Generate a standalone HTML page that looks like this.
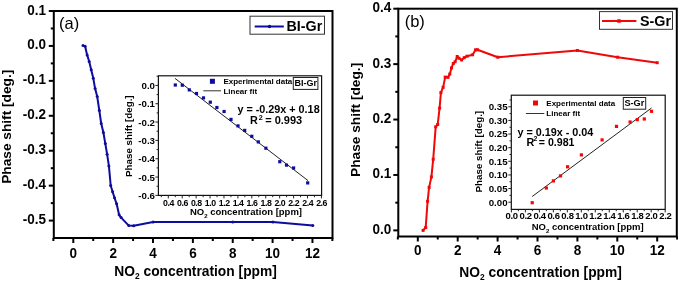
<!DOCTYPE html>
<html><head><meta charset="utf-8"><style>
html,body{margin:0;padding:0;background:#fff;}
body{width:678px;height:283px;overflow:hidden;}
svg{display:block;}
text{fill:#000;}
</style></head><body>
<svg width="678" height="283" viewBox="0 0 678 283" font-family='"Liberation Sans", sans-serif'>
<rect width="678" height="283" fill="#fff"/>
<rect x="53.8" y="11" width="278.7" height="227" fill="none" stroke="#000" stroke-width="2"/>
<line x1="48.80" y1="11.00" x2="53.80" y2="11.00" stroke="#000" stroke-width="2"/>
<line x1="48.80" y1="45.93" x2="53.80" y2="45.93" stroke="#000" stroke-width="2"/>
<line x1="48.80" y1="80.86" x2="53.80" y2="80.86" stroke="#000" stroke-width="2"/>
<line x1="48.80" y1="115.79" x2="53.80" y2="115.79" stroke="#000" stroke-width="2"/>
<line x1="48.80" y1="150.72" x2="53.80" y2="150.72" stroke="#000" stroke-width="2"/>
<line x1="48.80" y1="185.65" x2="53.80" y2="185.65" stroke="#000" stroke-width="2"/>
<line x1="48.80" y1="220.58" x2="53.80" y2="220.58" stroke="#000" stroke-width="2"/>
<line x1="50.80" y1="28.46" x2="53.80" y2="28.46" stroke="#000" stroke-width="2"/>
<line x1="50.80" y1="63.40" x2="53.80" y2="63.40" stroke="#000" stroke-width="2"/>
<line x1="50.80" y1="98.33" x2="53.80" y2="98.33" stroke="#000" stroke-width="2"/>
<line x1="50.80" y1="133.25" x2="53.80" y2="133.25" stroke="#000" stroke-width="2"/>
<line x1="50.80" y1="168.19" x2="53.80" y2="168.19" stroke="#000" stroke-width="2"/>
<line x1="50.80" y1="203.12" x2="53.80" y2="203.12" stroke="#000" stroke-width="2"/>
<line x1="73.30" y1="238.00" x2="73.30" y2="243.00" stroke="#000" stroke-width="2"/>
<line x1="113.16" y1="238.00" x2="113.16" y2="243.00" stroke="#000" stroke-width="2"/>
<line x1="153.02" y1="238.00" x2="153.02" y2="243.00" stroke="#000" stroke-width="2"/>
<line x1="192.88" y1="238.00" x2="192.88" y2="243.00" stroke="#000" stroke-width="2"/>
<line x1="232.74" y1="238.00" x2="232.74" y2="243.00" stroke="#000" stroke-width="2"/>
<line x1="272.60" y1="238.00" x2="272.60" y2="243.00" stroke="#000" stroke-width="2"/>
<line x1="312.46" y1="238.00" x2="312.46" y2="243.00" stroke="#000" stroke-width="2"/>
<line x1="53.37" y1="238.00" x2="53.37" y2="241.00" stroke="#000" stroke-width="2"/>
<line x1="93.23" y1="238.00" x2="93.23" y2="241.00" stroke="#000" stroke-width="2"/>
<line x1="133.09" y1="238.00" x2="133.09" y2="241.00" stroke="#000" stroke-width="2"/>
<line x1="172.95" y1="238.00" x2="172.95" y2="241.00" stroke="#000" stroke-width="2"/>
<line x1="212.81" y1="238.00" x2="212.81" y2="241.00" stroke="#000" stroke-width="2"/>
<line x1="252.67" y1="238.00" x2="252.67" y2="241.00" stroke="#000" stroke-width="2"/>
<line x1="292.53" y1="238.00" x2="292.53" y2="241.00" stroke="#000" stroke-width="2"/>
<line x1="332.39" y1="238.00" x2="332.39" y2="241.00" stroke="#000" stroke-width="2"/>
<polyline points="83.0,45.6 85.1,46.3 87.1,54.9 89.2,61.5 91.2,69.8 93.3,78.3 95.1,88.6 97.2,96.5 99.3,110.4 101.2,123.5 103.4,132.5 105.3,143.6 107.1,154.2 108.9,165.9 110.7,185.5 112.6,191.8 114.5,197.7 116.6,203.8 119.1,214.8 121.1,217.6 128.8,225.6 133.7,225.7 153.1,221.9 232.8,221.9 272.8,221.9 312.8,225.4" fill="none" stroke="#0e0c9e" stroke-width="2" stroke-linejoin="round"/>
<circle cx="83.00" cy="45.60" r="1.5" fill="#0e0c9e"/>
<circle cx="85.10" cy="46.30" r="1.5" fill="#0e0c9e"/>
<circle cx="87.10" cy="54.90" r="1.5" fill="#0e0c9e"/>
<circle cx="89.20" cy="61.50" r="1.5" fill="#0e0c9e"/>
<circle cx="91.20" cy="69.80" r="1.5" fill="#0e0c9e"/>
<circle cx="93.30" cy="78.30" r="1.5" fill="#0e0c9e"/>
<circle cx="95.10" cy="88.60" r="1.5" fill="#0e0c9e"/>
<circle cx="97.20" cy="96.50" r="1.5" fill="#0e0c9e"/>
<circle cx="99.30" cy="110.40" r="1.5" fill="#0e0c9e"/>
<circle cx="101.20" cy="123.50" r="1.5" fill="#0e0c9e"/>
<circle cx="103.40" cy="132.50" r="1.5" fill="#0e0c9e"/>
<circle cx="105.30" cy="143.60" r="1.5" fill="#0e0c9e"/>
<circle cx="107.10" cy="154.20" r="1.5" fill="#0e0c9e"/>
<circle cx="108.90" cy="165.90" r="1.5" fill="#0e0c9e"/>
<circle cx="110.70" cy="185.50" r="1.5" fill="#0e0c9e"/>
<circle cx="112.60" cy="191.80" r="1.5" fill="#0e0c9e"/>
<circle cx="114.50" cy="197.70" r="1.5" fill="#0e0c9e"/>
<circle cx="116.60" cy="203.80" r="1.5" fill="#0e0c9e"/>
<circle cx="119.10" cy="214.80" r="1.5" fill="#0e0c9e"/>
<circle cx="121.10" cy="217.60" r="1.5" fill="#0e0c9e"/>
<circle cx="128.80" cy="225.60" r="1.5" fill="#0e0c9e"/>
<circle cx="133.70" cy="225.70" r="1.5" fill="#0e0c9e"/>
<circle cx="153.10" cy="221.90" r="1.5" fill="#0e0c9e"/>
<circle cx="232.80" cy="221.90" r="1.5" fill="#0e0c9e"/>
<circle cx="272.80" cy="221.90" r="1.5" fill="#0e0c9e"/>
<circle cx="312.80" cy="225.40" r="1.5" fill="#0e0c9e"/>
<rect x="250" y="16.2" width="74.5" height="18" fill="#fff" stroke="#333" stroke-width="1"/>
<line x1="254.70" y1="26.50" x2="283.80" y2="26.50" stroke="#0e0c9e" stroke-width="2"/>
<circle cx="269.50" cy="26.50" r="1.75" fill="#0e0c9e"/>
<rect x="398.3" y="8.7" width="278.49999999999994" height="227.8" fill="none" stroke="#000" stroke-width="2"/>
<line x1="393.30" y1="8.70" x2="398.30" y2="8.70" stroke="#000" stroke-width="2"/>
<line x1="393.30" y1="64.12" x2="398.30" y2="64.12" stroke="#000" stroke-width="2"/>
<line x1="393.30" y1="119.54" x2="398.30" y2="119.54" stroke="#000" stroke-width="2"/>
<line x1="393.30" y1="174.96" x2="398.30" y2="174.96" stroke="#000" stroke-width="2"/>
<line x1="393.30" y1="230.38" x2="398.30" y2="230.38" stroke="#000" stroke-width="2"/>
<line x1="395.30" y1="36.41" x2="398.30" y2="36.41" stroke="#000" stroke-width="2"/>
<line x1="395.30" y1="91.83" x2="398.30" y2="91.83" stroke="#000" stroke-width="2"/>
<line x1="395.30" y1="147.25" x2="398.30" y2="147.25" stroke="#000" stroke-width="2"/>
<line x1="395.30" y1="202.67" x2="398.30" y2="202.67" stroke="#000" stroke-width="2"/>
<line x1="417.80" y1="236.50" x2="417.80" y2="241.50" stroke="#000" stroke-width="2"/>
<line x1="457.70" y1="236.50" x2="457.70" y2="241.50" stroke="#000" stroke-width="2"/>
<line x1="497.60" y1="236.50" x2="497.60" y2="241.50" stroke="#000" stroke-width="2"/>
<line x1="537.50" y1="236.50" x2="537.50" y2="241.50" stroke="#000" stroke-width="2"/>
<line x1="577.40" y1="236.50" x2="577.40" y2="241.50" stroke="#000" stroke-width="2"/>
<line x1="617.30" y1="236.50" x2="617.30" y2="241.50" stroke="#000" stroke-width="2"/>
<line x1="657.20" y1="236.50" x2="657.20" y2="241.50" stroke="#000" stroke-width="2"/>
<line x1="397.85" y1="236.50" x2="397.85" y2="239.50" stroke="#000" stroke-width="2"/>
<line x1="437.75" y1="236.50" x2="437.75" y2="239.50" stroke="#000" stroke-width="2"/>
<line x1="477.65" y1="236.50" x2="477.65" y2="239.50" stroke="#000" stroke-width="2"/>
<line x1="517.55" y1="236.50" x2="517.55" y2="239.50" stroke="#000" stroke-width="2"/>
<line x1="557.45" y1="236.50" x2="557.45" y2="239.50" stroke="#000" stroke-width="2"/>
<line x1="597.35" y1="236.50" x2="597.35" y2="239.50" stroke="#000" stroke-width="2"/>
<line x1="637.25" y1="236.50" x2="637.25" y2="239.50" stroke="#000" stroke-width="2"/>
<line x1="677.15" y1="236.50" x2="677.15" y2="239.50" stroke="#000" stroke-width="2"/>
<polyline points="423.1,230.4 425.7,227.5 427.6,201.3 429.1,187.4 431.4,176.9 433.2,159.3 435.7,126.8 437.7,124.5 439.6,108.1 440.9,92.6 443.1,87.4 445.2,77.1 448.0,77.3 449.8,74.1 451.5,67.9 453.3,63.5 455.1,61.8 457.2,56.5 458.9,58.2 461.6,60.0 464.2,57.7 467.0,56.2 472.6,54.8 475.6,49.8 477.5,49.8 497.8,57.2 577.4,50.5 617.6,57.2 657.2,62.7" fill="none" stroke="#f00808" stroke-width="2" stroke-linejoin="round"/>
<rect x="421.60" y="228.90" width="3" height="3" fill="#f00808"/>
<rect x="424.20" y="226.00" width="3" height="3" fill="#f00808"/>
<rect x="426.10" y="199.80" width="3" height="3" fill="#f00808"/>
<rect x="427.60" y="185.90" width="3" height="3" fill="#f00808"/>
<rect x="429.90" y="175.40" width="3" height="3" fill="#f00808"/>
<rect x="431.70" y="157.80" width="3" height="3" fill="#f00808"/>
<rect x="434.20" y="125.30" width="3" height="3" fill="#f00808"/>
<rect x="436.20" y="123.00" width="3" height="3" fill="#f00808"/>
<rect x="438.10" y="106.60" width="3" height="3" fill="#f00808"/>
<rect x="439.40" y="91.10" width="3" height="3" fill="#f00808"/>
<rect x="441.60" y="85.90" width="3" height="3" fill="#f00808"/>
<rect x="443.70" y="75.60" width="3" height="3" fill="#f00808"/>
<rect x="446.50" y="75.80" width="3" height="3" fill="#f00808"/>
<rect x="448.30" y="72.60" width="3" height="3" fill="#f00808"/>
<rect x="450.00" y="66.40" width="3" height="3" fill="#f00808"/>
<rect x="451.80" y="62.00" width="3" height="3" fill="#f00808"/>
<rect x="453.60" y="60.30" width="3" height="3" fill="#f00808"/>
<rect x="455.70" y="55.00" width="3" height="3" fill="#f00808"/>
<rect x="457.40" y="56.70" width="3" height="3" fill="#f00808"/>
<rect x="460.10" y="58.50" width="3" height="3" fill="#f00808"/>
<rect x="462.70" y="56.20" width="3" height="3" fill="#f00808"/>
<rect x="465.50" y="54.70" width="3" height="3" fill="#f00808"/>
<rect x="471.10" y="53.30" width="3" height="3" fill="#f00808"/>
<rect x="474.10" y="48.30" width="3" height="3" fill="#f00808"/>
<rect x="476.00" y="48.30" width="3" height="3" fill="#f00808"/>
<rect x="496.30" y="55.70" width="3" height="3" fill="#f00808"/>
<rect x="575.90" y="49.00" width="3" height="3" fill="#f00808"/>
<rect x="616.10" y="55.70" width="3" height="3" fill="#f00808"/>
<rect x="655.70" y="61.20" width="3" height="3" fill="#f00808"/>
<rect x="599.5" y="11.6" width="73" height="17.7" fill="#fff" stroke="#333" stroke-width="1"/>
<line x1="602.00" y1="21.00" x2="636.40" y2="21.00" stroke="#f00808" stroke-width="2"/>
<rect x="617.25" y="19.25" width="3.5" height="3.5" fill="#f00808"/>
<rect x="158.4" y="75.8" width="163.20000000000002" height="119.60000000000001" fill="#fff" stroke="#111" stroke-width="1.2"/>
<line x1="155.40" y1="85.40" x2="158.40" y2="85.40" stroke="#222" stroke-width="1"/>
<line x1="155.40" y1="103.73" x2="158.40" y2="103.73" stroke="#222" stroke-width="1"/>
<line x1="155.40" y1="122.06" x2="158.40" y2="122.06" stroke="#222" stroke-width="1"/>
<line x1="155.40" y1="140.39" x2="158.40" y2="140.39" stroke="#222" stroke-width="1"/>
<line x1="155.40" y1="158.72" x2="158.40" y2="158.72" stroke="#222" stroke-width="1"/>
<line x1="155.40" y1="177.05" x2="158.40" y2="177.05" stroke="#222" stroke-width="1"/>
<line x1="155.40" y1="195.38" x2="158.40" y2="195.38" stroke="#222" stroke-width="1"/>
<line x1="156.60" y1="76.23" x2="158.40" y2="76.23" stroke="#222" stroke-width="1"/>
<line x1="156.60" y1="94.57" x2="158.40" y2="94.57" stroke="#222" stroke-width="1"/>
<line x1="156.60" y1="112.90" x2="158.40" y2="112.90" stroke="#222" stroke-width="1"/>
<line x1="156.60" y1="131.23" x2="158.40" y2="131.23" stroke="#222" stroke-width="1"/>
<line x1="156.60" y1="149.56" x2="158.40" y2="149.56" stroke="#222" stroke-width="1"/>
<line x1="156.60" y1="167.89" x2="158.40" y2="167.89" stroke="#222" stroke-width="1"/>
<line x1="156.60" y1="186.22" x2="158.40" y2="186.22" stroke="#222" stroke-width="1"/>
<line x1="168.30" y1="195.40" x2="168.30" y2="198.40" stroke="#222" stroke-width="1"/>
<line x1="182.22" y1="195.40" x2="182.22" y2="198.40" stroke="#222" stroke-width="1"/>
<line x1="196.14" y1="195.40" x2="196.14" y2="198.40" stroke="#222" stroke-width="1"/>
<line x1="210.06" y1="195.40" x2="210.06" y2="198.40" stroke="#222" stroke-width="1"/>
<line x1="223.98" y1="195.40" x2="223.98" y2="198.40" stroke="#222" stroke-width="1"/>
<line x1="237.90" y1="195.40" x2="237.90" y2="198.40" stroke="#222" stroke-width="1"/>
<line x1="251.82" y1="195.40" x2="251.82" y2="198.40" stroke="#222" stroke-width="1"/>
<line x1="265.74" y1="195.40" x2="265.74" y2="198.40" stroke="#222" stroke-width="1"/>
<line x1="279.66" y1="195.40" x2="279.66" y2="198.40" stroke="#222" stroke-width="1"/>
<line x1="293.58" y1="195.40" x2="293.58" y2="198.40" stroke="#222" stroke-width="1"/>
<line x1="307.50" y1="195.40" x2="307.50" y2="198.40" stroke="#222" stroke-width="1"/>
<line x1="321.42" y1="195.40" x2="321.42" y2="198.40" stroke="#222" stroke-width="1"/>
<line x1="161.34" y1="195.40" x2="161.34" y2="197.20" stroke="#222" stroke-width="1"/>
<line x1="175.26" y1="195.40" x2="175.26" y2="197.20" stroke="#222" stroke-width="1"/>
<line x1="189.18" y1="195.40" x2="189.18" y2="197.20" stroke="#222" stroke-width="1"/>
<line x1="203.10" y1="195.40" x2="203.10" y2="197.20" stroke="#222" stroke-width="1"/>
<line x1="217.02" y1="195.40" x2="217.02" y2="197.20" stroke="#222" stroke-width="1"/>
<line x1="230.94" y1="195.40" x2="230.94" y2="197.20" stroke="#222" stroke-width="1"/>
<line x1="244.86" y1="195.40" x2="244.86" y2="197.20" stroke="#222" stroke-width="1"/>
<line x1="258.78" y1="195.40" x2="258.78" y2="197.20" stroke="#222" stroke-width="1"/>
<line x1="272.70" y1="195.40" x2="272.70" y2="197.20" stroke="#222" stroke-width="1"/>
<line x1="286.62" y1="195.40" x2="286.62" y2="197.20" stroke="#222" stroke-width="1"/>
<line x1="300.54" y1="195.40" x2="300.54" y2="197.20" stroke="#222" stroke-width="1"/>
<line x1="314.46" y1="195.40" x2="314.46" y2="197.20" stroke="#222" stroke-width="1"/>
<line x1="175.00" y1="78.40" x2="308.00" y2="180.60" stroke="#222" stroke-width="1"/>
<rect x="173.70" y="83.40" width="3.2" height="3.2" fill="#0e0c9e"/>
<rect x="180.70" y="83.60" width="3.2" height="3.2" fill="#0e0c9e"/>
<rect x="187.70" y="88.30" width="3.2" height="3.2" fill="#0e0c9e"/>
<rect x="194.90" y="91.90" width="3.2" height="3.2" fill="#0e0c9e"/>
<rect x="201.90" y="96.30" width="3.2" height="3.2" fill="#0e0c9e"/>
<rect x="208.70" y="100.60" width="3.2" height="3.2" fill="#0e0c9e"/>
<rect x="215.30" y="105.90" width="3.2" height="3.2" fill="#0e0c9e"/>
<rect x="222.50" y="109.90" width="3.2" height="3.2" fill="#0e0c9e"/>
<rect x="229.40" y="117.80" width="3.2" height="3.2" fill="#0e0c9e"/>
<rect x="236.40" y="124.30" width="3.2" height="3.2" fill="#0e0c9e"/>
<rect x="243.10" y="128.80" width="3.2" height="3.2" fill="#0e0c9e"/>
<rect x="250.20" y="134.70" width="3.2" height="3.2" fill="#0e0c9e"/>
<rect x="256.70" y="140.30" width="3.2" height="3.2" fill="#0e0c9e"/>
<rect x="264.30" y="146.60" width="3.2" height="3.2" fill="#0e0c9e"/>
<rect x="278.20" y="160.10" width="3.2" height="3.2" fill="#0e0c9e"/>
<rect x="284.90" y="163.50" width="3.2" height="3.2" fill="#0e0c9e"/>
<rect x="292.00" y="166.40" width="3.2" height="3.2" fill="#0e0c9e"/>
<rect x="306.10" y="181.30" width="3.2" height="3.2" fill="#0e0c9e"/>
<rect x="209.90" y="78.80" width="5" height="5" fill="#0e0c9e"/>
<line x1="203.30" y1="90.80" x2="221.00" y2="90.80" stroke="#333" stroke-width="1"/>
<rect x="293.3" y="77.5" width="24.6" height="11.9" fill="#fff" stroke="#222" stroke-width="1"/>
<rect x="511.3" y="95.2" width="153.90000000000003" height="114.2" fill="#fff" stroke="#111" stroke-width="1.2"/>
<line x1="508.30" y1="202.20" x2="511.30" y2="202.20" stroke="#222" stroke-width="1"/>
<line x1="508.30" y1="188.57" x2="511.30" y2="188.57" stroke="#222" stroke-width="1"/>
<line x1="508.30" y1="174.94" x2="511.30" y2="174.94" stroke="#222" stroke-width="1"/>
<line x1="508.30" y1="161.31" x2="511.30" y2="161.31" stroke="#222" stroke-width="1"/>
<line x1="508.30" y1="147.68" x2="511.30" y2="147.68" stroke="#222" stroke-width="1"/>
<line x1="508.30" y1="134.05" x2="511.30" y2="134.05" stroke="#222" stroke-width="1"/>
<line x1="508.30" y1="120.42" x2="511.30" y2="120.42" stroke="#222" stroke-width="1"/>
<line x1="508.30" y1="106.79" x2="511.30" y2="106.79" stroke="#222" stroke-width="1"/>
<line x1="509.50" y1="195.38" x2="511.30" y2="195.38" stroke="#222" stroke-width="1"/>
<line x1="509.50" y1="181.75" x2="511.30" y2="181.75" stroke="#222" stroke-width="1"/>
<line x1="509.50" y1="168.12" x2="511.30" y2="168.12" stroke="#222" stroke-width="1"/>
<line x1="509.50" y1="154.50" x2="511.30" y2="154.50" stroke="#222" stroke-width="1"/>
<line x1="509.50" y1="140.86" x2="511.30" y2="140.86" stroke="#222" stroke-width="1"/>
<line x1="509.50" y1="127.23" x2="511.30" y2="127.23" stroke="#222" stroke-width="1"/>
<line x1="509.50" y1="113.60" x2="511.30" y2="113.60" stroke="#222" stroke-width="1"/>
<line x1="509.50" y1="99.97" x2="511.30" y2="99.97" stroke="#222" stroke-width="1"/>
<line x1="511.40" y1="209.40" x2="511.40" y2="212.40" stroke="#222" stroke-width="1"/>
<line x1="525.38" y1="209.40" x2="525.38" y2="212.40" stroke="#222" stroke-width="1"/>
<line x1="539.36" y1="209.40" x2="539.36" y2="212.40" stroke="#222" stroke-width="1"/>
<line x1="553.34" y1="209.40" x2="553.34" y2="212.40" stroke="#222" stroke-width="1"/>
<line x1="567.32" y1="209.40" x2="567.32" y2="212.40" stroke="#222" stroke-width="1"/>
<line x1="581.30" y1="209.40" x2="581.30" y2="212.40" stroke="#222" stroke-width="1"/>
<line x1="595.28" y1="209.40" x2="595.28" y2="212.40" stroke="#222" stroke-width="1"/>
<line x1="609.26" y1="209.40" x2="609.26" y2="212.40" stroke="#222" stroke-width="1"/>
<line x1="623.24" y1="209.40" x2="623.24" y2="212.40" stroke="#222" stroke-width="1"/>
<line x1="637.22" y1="209.40" x2="637.22" y2="212.40" stroke="#222" stroke-width="1"/>
<line x1="651.20" y1="209.40" x2="651.20" y2="212.40" stroke="#222" stroke-width="1"/>
<line x1="665.18" y1="209.40" x2="665.18" y2="212.40" stroke="#222" stroke-width="1"/>
<line x1="518.39" y1="209.40" x2="518.39" y2="211.20" stroke="#222" stroke-width="1"/>
<line x1="532.37" y1="209.40" x2="532.37" y2="211.20" stroke="#222" stroke-width="1"/>
<line x1="546.35" y1="209.40" x2="546.35" y2="211.20" stroke="#222" stroke-width="1"/>
<line x1="560.33" y1="209.40" x2="560.33" y2="211.20" stroke="#222" stroke-width="1"/>
<line x1="574.31" y1="209.40" x2="574.31" y2="211.20" stroke="#222" stroke-width="1"/>
<line x1="588.29" y1="209.40" x2="588.29" y2="211.20" stroke="#222" stroke-width="1"/>
<line x1="602.27" y1="209.40" x2="602.27" y2="211.20" stroke="#222" stroke-width="1"/>
<line x1="616.25" y1="209.40" x2="616.25" y2="211.20" stroke="#222" stroke-width="1"/>
<line x1="630.23" y1="209.40" x2="630.23" y2="211.20" stroke="#222" stroke-width="1"/>
<line x1="644.21" y1="209.40" x2="644.21" y2="211.20" stroke="#222" stroke-width="1"/>
<line x1="658.19" y1="209.40" x2="658.19" y2="211.20" stroke="#222" stroke-width="1"/>
<line x1="532.20" y1="196.50" x2="651.50" y2="108.00" stroke="#222" stroke-width="1"/>
<rect x="530.60" y="201.10" width="3.2" height="3.2" fill="#f00808"/>
<rect x="544.70" y="186.40" width="3.2" height="3.2" fill="#f00808"/>
<rect x="551.80" y="179.30" width="3.2" height="3.2" fill="#f00808"/>
<rect x="558.90" y="174.30" width="3.2" height="3.2" fill="#f00808"/>
<rect x="566.00" y="165.20" width="3.2" height="3.2" fill="#f00808"/>
<rect x="579.80" y="153.30" width="3.2" height="3.2" fill="#f00808"/>
<rect x="600.50" y="138.30" width="3.2" height="3.2" fill="#f00808"/>
<rect x="614.90" y="124.80" width="3.2" height="3.2" fill="#f00808"/>
<rect x="628.50" y="120.40" width="3.2" height="3.2" fill="#f00808"/>
<rect x="635.70" y="118.00" width="3.2" height="3.2" fill="#f00808"/>
<rect x="642.70" y="117.40" width="3.2" height="3.2" fill="#f00808"/>
<rect x="649.90" y="109.70" width="3.2" height="3.2" fill="#f00808"/>
<rect x="533.00" y="100.50" width="5" height="5" fill="#f00808"/>
<line x1="525.90" y1="113.50" x2="544.30" y2="113.50" stroke="#333" stroke-width="1"/>
<rect x="623.3" y="97.5" width="22.4" height="11.7" fill="#fff" stroke="#222" stroke-width="1"/>
<defs><filter id="gs" filterUnits="userSpaceOnUse" x="0" y="0" width="678" height="283"><feColorMatrix type="saturate" values="0"/></filter></defs>
<g filter="url(#gs)">
<text transform="translate(46.00,14.50) scale(1,1.13)" font-size="13.5" font-weight="bold" text-anchor="end" >0.1</text>
<text transform="translate(46.00,49.43) scale(1,1.13)" font-size="13.5" font-weight="bold" text-anchor="end" >0.0</text>
<text transform="translate(46.00,84.36) scale(1,1.13)" font-size="13.5" font-weight="bold" text-anchor="end" >-0.1</text>
<text transform="translate(46.00,119.29) scale(1,1.13)" font-size="13.5" font-weight="bold" text-anchor="end" >-0.2</text>
<text transform="translate(46.00,154.22) scale(1,1.13)" font-size="13.5" font-weight="bold" text-anchor="end" >-0.3</text>
<text transform="translate(46.00,189.15) scale(1,1.13)" font-size="13.5" font-weight="bold" text-anchor="end" >-0.4</text>
<text transform="translate(46.00,224.08) scale(1,1.13)" font-size="13.5" font-weight="bold" text-anchor="end" >-0.5</text>
<text transform="translate(73.30,257.90) scale(1,1.13)" font-size="13.5" font-weight="bold" text-anchor="middle" >0</text>
<text transform="translate(113.16,257.90) scale(1,1.13)" font-size="13.5" font-weight="bold" text-anchor="middle" >2</text>
<text transform="translate(153.02,257.90) scale(1,1.13)" font-size="13.5" font-weight="bold" text-anchor="middle" >4</text>
<text transform="translate(192.88,257.90) scale(1,1.13)" font-size="13.5" font-weight="bold" text-anchor="middle" >6</text>
<text transform="translate(232.74,257.90) scale(1,1.13)" font-size="13.5" font-weight="bold" text-anchor="middle" >8</text>
<text transform="translate(272.60,257.90) scale(1,1.13)" font-size="13.5" font-weight="bold" text-anchor="middle" >10</text>
<text transform="translate(312.46,257.90) scale(1,1.13)" font-size="13.5" font-weight="bold" text-anchor="middle" >12</text>
<text transform="translate(11.00,126.75) rotate(-90)" font-size="13.7" font-weight="bold" text-anchor="middle">Phase shift [deg.]</text>
<text x="195.60" y="275.80" font-size="13.8" font-weight="bold" text-anchor="middle">NO<tspan font-size="8.4" dy="3.2">2</tspan><tspan dy="-3.2"> concentration [ppm]</tspan></text>
<text x="59" y="28.8" font-size="16.5">(a)</text>
<text x="286.50" y="30.50" font-size="14.3" font-weight="bold" text-anchor="start" >BI-Gr</text>
<text transform="translate(391.20,12.20) scale(1,1.13)" font-size="13.5" font-weight="bold" text-anchor="end" >0.4</text>
<text transform="translate(391.20,67.62) scale(1,1.13)" font-size="13.5" font-weight="bold" text-anchor="end" >0.3</text>
<text transform="translate(391.20,123.04) scale(1,1.13)" font-size="13.5" font-weight="bold" text-anchor="end" >0.2</text>
<text transform="translate(391.20,178.46) scale(1,1.13)" font-size="13.5" font-weight="bold" text-anchor="end" >0.1</text>
<text transform="translate(391.20,233.88) scale(1,1.13)" font-size="13.5" font-weight="bold" text-anchor="end" >0.0</text>
<text transform="translate(417.80,255.30) scale(1,1.13)" font-size="13.5" font-weight="bold" text-anchor="middle" >0</text>
<text transform="translate(457.70,255.30) scale(1,1.13)" font-size="13.5" font-weight="bold" text-anchor="middle" >2</text>
<text transform="translate(497.60,255.30) scale(1,1.13)" font-size="13.5" font-weight="bold" text-anchor="middle" >4</text>
<text transform="translate(537.50,255.30) scale(1,1.13)" font-size="13.5" font-weight="bold" text-anchor="middle" >6</text>
<text transform="translate(577.40,255.30) scale(1,1.13)" font-size="13.5" font-weight="bold" text-anchor="middle" >8</text>
<text transform="translate(617.30,255.30) scale(1,1.13)" font-size="13.5" font-weight="bold" text-anchor="middle" >10</text>
<text transform="translate(657.20,255.30) scale(1,1.13)" font-size="13.5" font-weight="bold" text-anchor="middle" >12</text>
<text transform="translate(359.80,119.85) rotate(-90)" font-size="13.7" font-weight="bold" text-anchor="middle">Phase shift [deg.]</text>
<text x="540.60" y="276.80" font-size="13.8" font-weight="bold" text-anchor="middle">NO<tspan font-size="8.4" dy="3.2">2</tspan><tspan dy="-3.2"> concentration [ppm]</tspan></text>
<text x="404.7" y="26.8" font-size="16.5">(b)</text>
<text x="640.00" y="25.90" font-size="14.3" font-weight="bold" text-anchor="start" >S-Gr</text>
<text x="155.00" y="88.90" font-size="9.7" font-weight="bold" text-anchor="end" >0.0</text>
<text x="155.00" y="107.23" font-size="9.7" font-weight="bold" text-anchor="end" >-0.1</text>
<text x="155.00" y="125.56" font-size="9.7" font-weight="bold" text-anchor="end" >-0.2</text>
<text x="155.00" y="143.89" font-size="9.7" font-weight="bold" text-anchor="end" >-0.3</text>
<text x="155.00" y="162.22" font-size="9.7" font-weight="bold" text-anchor="end" >-0.4</text>
<text x="155.00" y="180.55" font-size="9.7" font-weight="bold" text-anchor="end" >-0.5</text>
<text x="155.00" y="198.88" font-size="9.7" font-weight="bold" text-anchor="end" >-0.6</text>
<text transform="translate(168.50,205.50) scale(1,1.04)" font-size="8.8" font-weight="bold" text-anchor="middle" letter-spacing="-0.45">0.4</text>
<text transform="translate(182.42,205.50) scale(1,1.04)" font-size="8.8" font-weight="bold" text-anchor="middle" letter-spacing="-0.45">0.6</text>
<text transform="translate(196.34,205.50) scale(1,1.04)" font-size="8.8" font-weight="bold" text-anchor="middle" letter-spacing="-0.45">0.8</text>
<text transform="translate(210.26,205.50) scale(1,1.04)" font-size="8.8" font-weight="bold" text-anchor="middle" letter-spacing="-0.45">1.0</text>
<text transform="translate(224.18,205.50) scale(1,1.04)" font-size="8.8" font-weight="bold" text-anchor="middle" letter-spacing="-0.45">1.2</text>
<text transform="translate(238.10,205.50) scale(1,1.04)" font-size="8.8" font-weight="bold" text-anchor="middle" letter-spacing="-0.45">1.4</text>
<text transform="translate(252.02,205.50) scale(1,1.04)" font-size="8.8" font-weight="bold" text-anchor="middle" letter-spacing="-0.45">1.6</text>
<text transform="translate(265.94,205.50) scale(1,1.04)" font-size="8.8" font-weight="bold" text-anchor="middle" letter-spacing="-0.45">1.8</text>
<text transform="translate(279.86,205.50) scale(1,1.04)" font-size="8.8" font-weight="bold" text-anchor="middle" letter-spacing="-0.45">2.0</text>
<text transform="translate(293.78,205.50) scale(1,1.04)" font-size="8.8" font-weight="bold" text-anchor="middle" letter-spacing="-0.45">2.2</text>
<text transform="translate(307.70,205.50) scale(1,1.04)" font-size="8.8" font-weight="bold" text-anchor="middle" letter-spacing="-0.45">2.4</text>
<text transform="translate(321.62,205.50) scale(1,1.04)" font-size="8.8" font-weight="bold" text-anchor="middle" letter-spacing="-0.45">2.6</text>
<text transform="translate(131.80,136.20) rotate(-90)" font-size="9.8" font-weight="bold" text-anchor="middle">Phase shift [deg.]</text>
<text x="246.00" y="214.90" font-size="9.5" font-weight="bold" text-anchor="middle">NO<tspan font-size="6" dy="2.8">2</tspan><tspan dy="-2.8"> concentration [ppm]</tspan></text>
<text x="223.40" y="84.10" font-size="8" font-weight="bold" text-anchor="start" >Experimental data</text>
<text x="223.40" y="93.70" font-size="8" font-weight="bold" text-anchor="start" >Linear fit</text>
<text x="294.60" y="86.40" font-size="9.0" font-weight="bold" text-anchor="start" >BI-Gr</text>
<text x="237.40" y="113.20" font-size="10.8" font-weight="bold" text-anchor="start" >y = -0.29x + 0.18</text>
<text x="250.00" y="124.00" font-size="10.8" font-weight="bold" text-anchor="start" >R</text>
<text x="258.80" y="120.20" font-size="7.2" font-weight="bold" text-anchor="start" >2</text>
<text x="265.20" y="124.00" font-size="11.0" font-weight="bold" text-anchor="start" >= 0.993</text>
<text x="507.60" y="205.50" font-size="9.7" font-weight="bold" text-anchor="end" >0.00</text>
<text x="507.60" y="191.87" font-size="9.7" font-weight="bold" text-anchor="end" >0.05</text>
<text x="507.60" y="178.24" font-size="9.7" font-weight="bold" text-anchor="end" >0.10</text>
<text x="507.60" y="164.61" font-size="9.7" font-weight="bold" text-anchor="end" >0.15</text>
<text x="507.60" y="150.98" font-size="9.7" font-weight="bold" text-anchor="end" >0.20</text>
<text x="507.60" y="137.35" font-size="9.7" font-weight="bold" text-anchor="end" >0.25</text>
<text x="507.60" y="123.72" font-size="9.7" font-weight="bold" text-anchor="end" >0.30</text>
<text x="507.60" y="110.09" font-size="9.7" font-weight="bold" text-anchor="end" >0.35</text>
<text transform="translate(511.60,219.20) scale(1,1.04)" font-size="9.5" font-weight="bold" text-anchor="middle" letter-spacing="-0.3">0.0</text>
<text transform="translate(525.58,219.20) scale(1,1.04)" font-size="9.5" font-weight="bold" text-anchor="middle" letter-spacing="-0.3">0.2</text>
<text transform="translate(539.56,219.20) scale(1,1.04)" font-size="9.5" font-weight="bold" text-anchor="middle" letter-spacing="-0.3">0.4</text>
<text transform="translate(553.54,219.20) scale(1,1.04)" font-size="9.5" font-weight="bold" text-anchor="middle" letter-spacing="-0.3">0.6</text>
<text transform="translate(567.52,219.20) scale(1,1.04)" font-size="9.5" font-weight="bold" text-anchor="middle" letter-spacing="-0.3">0.8</text>
<text transform="translate(581.50,219.20) scale(1,1.04)" font-size="9.5" font-weight="bold" text-anchor="middle" letter-spacing="-0.3">1.0</text>
<text transform="translate(595.48,219.20) scale(1,1.04)" font-size="9.5" font-weight="bold" text-anchor="middle" letter-spacing="-0.3">1.2</text>
<text transform="translate(609.46,219.20) scale(1,1.04)" font-size="9.5" font-weight="bold" text-anchor="middle" letter-spacing="-0.3">1.4</text>
<text transform="translate(623.44,219.20) scale(1,1.04)" font-size="9.5" font-weight="bold" text-anchor="middle" letter-spacing="-0.3">1.6</text>
<text transform="translate(637.42,219.20) scale(1,1.04)" font-size="9.5" font-weight="bold" text-anchor="middle" letter-spacing="-0.3">1.8</text>
<text transform="translate(651.40,219.20) scale(1,1.04)" font-size="9.5" font-weight="bold" text-anchor="middle" letter-spacing="-0.3">2.0</text>
<text transform="translate(665.38,219.20) scale(1,1.04)" font-size="9.5" font-weight="bold" text-anchor="middle" letter-spacing="-0.3">2.2</text>
<text transform="translate(481.80,151.70) rotate(-90)" font-size="9.8" font-weight="bold" text-anchor="middle">Phase shift [deg.]</text>
<text x="587.70" y="229.80" font-size="9.5" font-weight="bold" text-anchor="middle">NO<tspan font-size="6" dy="2.8">2</tspan><tspan dy="-2.8"> concentration [ppm]</tspan></text>
<text x="546.30" y="105.70" font-size="8" font-weight="bold" text-anchor="start" >Experimental data</text>
<text x="546.30" y="115.70" font-size="8" font-weight="bold" text-anchor="start" >Linear fit</text>
<text x="624.40" y="105.90" font-size="9.2" font-weight="bold" text-anchor="start" >S-Gr</text>
<text x="517.40" y="135.60" font-size="10.8" font-weight="bold" text-anchor="start" >y = 0.19x - 0.04</text>
<text x="526.50" y="146.00" font-size="10.8" font-weight="bold" text-anchor="start" >R</text>
<text x="533.60" y="141.00" font-size="6.8" font-weight="bold" text-anchor="start" >2</text>
<text x="538.80" y="146.00" font-size="10.6" font-weight="bold" text-anchor="start" >= 0.981</text>
</g>
</svg>
</body></html>
